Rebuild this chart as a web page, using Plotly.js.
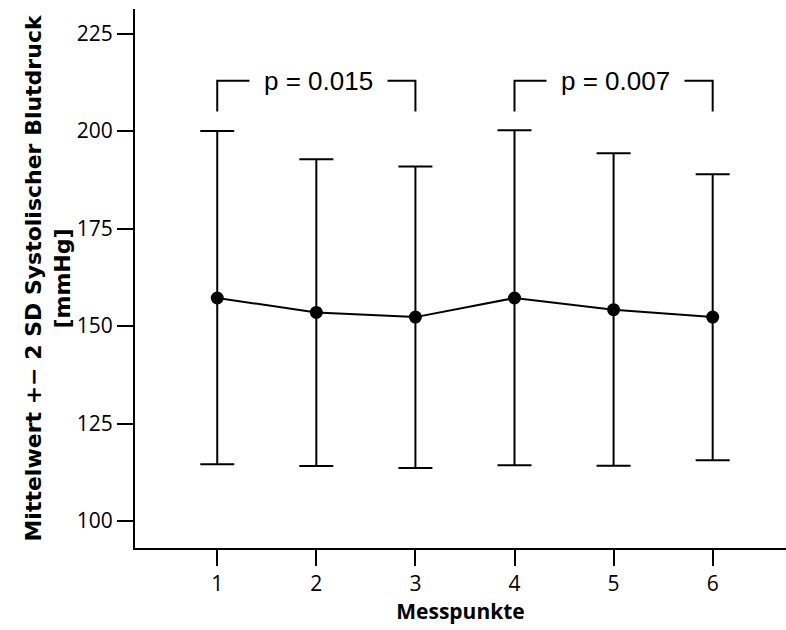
<!DOCTYPE html>
<html>
<head>
<meta charset="utf-8">
<script src="https://cdn.plot.ly/plotly-3.0.1.min.js"></script>
<style>html,body{margin:0;padding:0;background:#fff;}#chart{width:786px;height:630px;}</style>
</head>
<body>
<div id="chart"></div>
<script>
// Data
const messpunkte = [1, 2, 3, 4, 5, 6];
const mittelwert = [157.2, 153.5, 152.3, 157.2, 154.2, 152.3];
const oberGrenze = [200.0, 192.8, 190.9, 200.2, 194.3, 188.9];
const unterGrenze = [114.6, 114.1, 113.6, 114.3, 114.2, 115.6];
const yTicks = [100, 125, 150, 175, 200, 225];
// significance brackets: [from, to, label]
const vergleichVon = [1, 4];
const vergleichBis = [3, 6];
const pWerte = ['p = 0.015', 'p = 0.007'];
const bracketUnten = 205.0;
const bracketOben = 212.9;

const errPlus = mittelwert.map((m, i) => oberGrenze[i] - m);
const errMinus = mittelwert.map((m, i) => m - unterGrenze[i]);

const traces = [];
// brackets
vergleichVon.forEach((a, i) => {
  const b = vergleichBis[i];
  traces.push({
    x: [a, a, b, b],
    y: [bracketUnten, bracketOben, bracketOben, bracketUnten],
    mode: 'lines',
    line: {color: '#000', width: 2},
    hoverinfo: 'skip',
    showlegend: false,
    cliponaxis: false
  });
});
traces.push({
  x: messpunkte,
  y: mittelwert,
  mode: 'lines+markers',
  line: {color: '#000', width: 2},
  marker: {color: '#000', size: 13},
  error_y: {
    type: 'data', symmetric: false,
    array: errPlus, arrayminus: errMinus,
    color: '#000', thickness: 2, width: 17
  },
  showlegend: false
});

const annotations = vergleichVon.map((a, i) => ({
  x: (a + vergleichBis[i]) / 2,
  y: bracketOben,
  xref: 'x', yref: 'y',
  text: pWerte[i],
  showarrow: false,
  font: {family: 'Liberation Sans, Arial, sans-serif', size: 26, color: '#000'},
  bgcolor: '#fff',
  borderpad: 14,
  xshift: 2
}));

const layout = {
  width: 786, height: 630,
  paper_bgcolor: '#fff', plot_bgcolor: '#fff',
  margin: {l: 135, r: 0, t: 9, b: 82},
  showlegend: false,
  font: {family: 'Open Sans, sans-serif', color: '#000'},
  xaxis: {
    range: [0.17, 6.74],
    tickvals: messpunkte,
    ticktext: messpunkte.map(String),
    showline: true, linecolor: '#000', linewidth: 2,
    ticks: 'outside', ticklen: 16, tickwidth: 2, tickcolor: '#000',
    showgrid: false, zeroline: false,
    tickfont: {family: 'Open Sans, sans-serif', size: 21, color: '#000'},
    title: {text: '<b>Messpunkte</b>', font: {family: 'Open Sans, sans-serif', size: 21, color: '#000'}, standoff: 8}
  },
  yaxis: {
    range: [93.1, 231.3],
    tickvals: yTicks,
    showline: true, linecolor: '#000', linewidth: 2,
    ticks: 'outside', ticklen: 16, tickwidth: 2, tickcolor: '#000',
    showgrid: false, zeroline: false,
    tickfont: {family: 'Open Sans, sans-serif', size: 21, color: '#000'},
    title: {text: '<b>Mittelwert +− 2 SD Systolischer Blutdruck<br>[mmHg]</b>', font: {family: 'DejaVu Sans, sans-serif', size: 22, color: '#000'}, standoff: 0}
  },
  annotations: annotations
};

Plotly.newPlot('chart', traces, layout, {displayModeBar: false, staticPlot: true});
</script>
</body>
</html>
